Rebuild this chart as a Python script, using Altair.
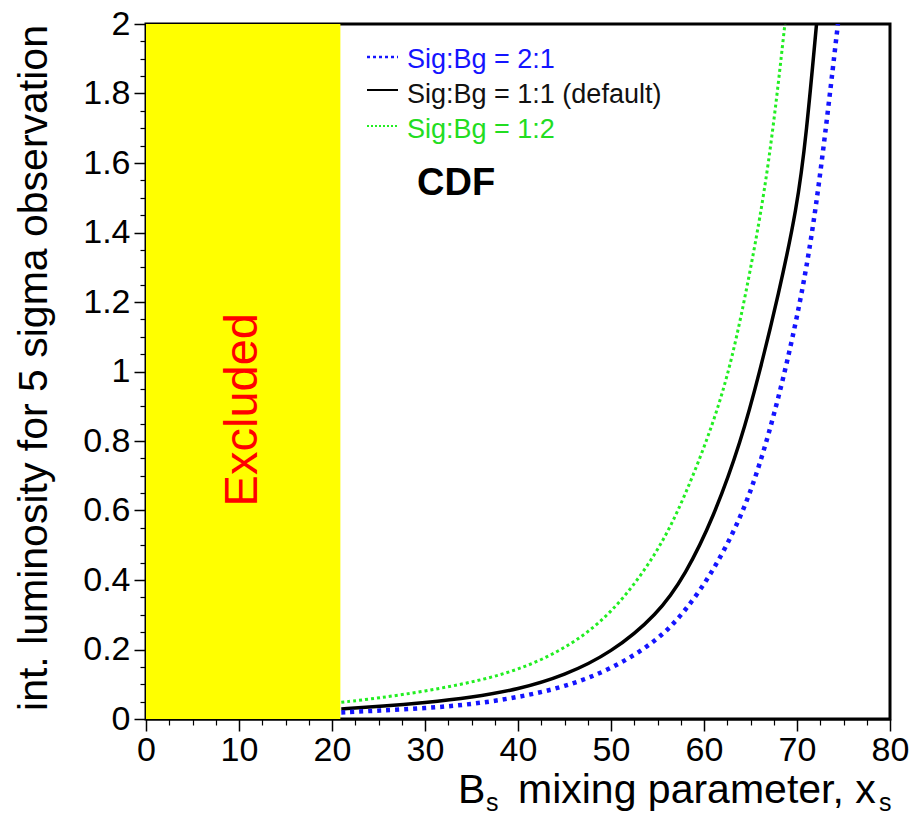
import altair as alt
import pandas as pd

# ---------------- data ----------------
x_major = [0, 10, 20, 30, 40, 50, 60, 70, 80]
y_major = [0, 0.2, 0.4, 0.6, 0.8, 1.0, 1.2, 1.4, 1.6, 1.8, 2.0]
x_minor = [2.5, 5, 7.5, 12.5, 15, 17.5, 22.5, 25, 27.5, 32.5, 35, 37.5, 42.5, 45, 47.5,
           52.5, 55, 57.5, 62.5, 65, 67.5, 72.5, 75, 77.5]
y_minor = [0.05, 0.1, 0.15, 0.25, 0.3, 0.35, 0.45, 0.5, 0.55, 0.65, 0.7, 0.75, 0.85, 0.9, 0.95,
           1.05, 1.1, 1.15, 1.25, 1.3, 1.35, 1.45, 1.5, 1.55, 1.65, 1.7, 1.75, 1.85, 1.9, 1.95]

excluded_from = [0]
excluded_to = [20.9]

series_names = ["Sig:Bg = 2:1", "Sig:Bg = 1:1 (default)", "Sig:Bg = 1:2"]

sig21_x = [21, 25, 30, 35, 40, 45, 50, 55, 58, 61, 64, 66, 68, 70, 72, 74.4]
sig21_y = [0.019, 0.024, 0.031, 0.042, 0.062, 0.092, 0.142, 0.225, 0.31, 0.425, 0.58, 0.73,
           0.92, 1.15, 1.44, 2.0]

sig11_x = [21, 25, 30, 35, 40, 45, 50, 55, 58, 61, 64, 66, 68, 70, 71, 72.1]
sig11_y = [0.029, 0.036, 0.047, 0.062, 0.085, 0.125, 0.19, 0.30, 0.415, 0.578, 0.80, 1.0,
           1.22, 1.47, 1.68, 2.0]

sig12_x = [21, 25, 30, 35, 40, 45, 50, 55, 58, 61, 63, 65, 67, 68.7]
sig12_y = [0.048, 0.06, 0.08, 0.105, 0.14, 0.2, 0.298, 0.475, 0.643, 0.849, 1.03, 1.29,
           1.59, 2.0]

FONT = "Liberation Sans"
W, H = 744, 695

xs = alt.Scale(domain=[0, 80], nice=False, zero=False)
ys = alt.Scale(domain=[0, 2], nice=False, zero=False)

rect_df = pd.DataFrame({"x0": excluded_from, "x1": excluded_to, "y0": [0], "y1": [2]})

major_axis_x = alt.Axis(values=x_major, format="d", title=None, tickSize=12, tickWidth=1.5,
                        labelFontSize=34, labelPadding=2, labelFont=FONT, labelColor="black",
                        domainColor="black", domainWidth=2, tickColor="black", grid=False,
                        orient="bottom", labelFlush=False, labelOverlap=False)
major_axis_y = alt.Axis(values=y_major, format="~g", tickSize=12, tickWidth=1.5,
                        labelFontSize=34, labelPadding=4, labelFont=FONT, labelColor="black",
                        domainColor="black", domainWidth=2, tickColor="black", grid=False,
                        orient="left", labelFlush=False, labelOverlap=False,
                        title="int. luminosity for 5 sigma observation", titleFont=FONT,
                        titleFontSize=41, titleFontWeight="normal", titleColor="black",
                        titleAngle=270, titleX=-100, titleY=H / 2 - 4, titleAlign="center",
                        titleBaseline="alphabetic")

excluded = alt.Chart(rect_df).mark_rect(color="#ffff00").encode(
    x=alt.X("x0:Q", scale=xs, axis=major_axis_x),
    x2="x1:Q",
    y=alt.Y("y0:Q", scale=ys, axis=major_axis_y),
    y2="y1:Q",
)

minor_axis_x = alt.Axis(values=x_minor, labels=False, title=None, tickSize=6, tickWidth=1.2,
                        tickColor="black", domain=False, grid=False, orient="bottom")
minor_axis_y = alt.Axis(values=y_minor, labels=False, title=None, tickSize=6, tickWidth=1.2,
                        tickColor="black", domain=False, grid=False, orient="left")

minor = alt.Chart(rect_df).mark_rect(opacity=0).encode(
    x=alt.X("x0:Q", scale=xs, axis=minor_axis_x),
    x2="x1:Q",
    y=alt.Y("y0:Q", scale=ys, axis=minor_axis_y),
    y2="y1:Q",
)

excl_text = alt.Chart(pd.DataFrame({"x": [10.45], "y": [0.89], "t": ["Excluded"]})).mark_text(
    angle=270, color="#ff0000", fontSize=47, font=FONT, align="center", baseline="middle"
).encode(
    x=alt.X("x:Q", scale=xs, axis=None),
    y=alt.Y("y:Q", scale=ys, axis=None),
    text="t:N",
)


def curve(xv, yv, name, color, width, dash=None):
    df = pd.DataFrame({"x": xv, "y": yv, "series": name})
    kw = dict(color=color, strokeWidth=width, interpolate="basis", clip=True)
    if dash:
        kw["strokeDash"] = dash
    return alt.Chart(df).mark_line(**kw).encode(
        x=alt.X("x:Q", scale=xs, axis=None),
        y=alt.Y("y:Q", scale=ys, axis=None),
        detail="series:N",
    )


blue = "#1414ff"
green = "#22ee22"
l_green = curve(sig12_x, sig12_y, series_names[2], green, 3, [3, 3])
l_black = curve(sig11_x, sig11_y, series_names[1], "black", 3.5)
l_blue = curve(sig21_x, sig21_y, series_names[0], blue, 4.5, [4, 5])

# ---------------- legend (annotation) ----------------
one = pd.DataFrame({"a": [0]})


def sample(yp, color, width, dash=None):
    kw = dict(color=color, strokeWidth=width)
    if dash:
        kw["strokeDash"] = dash
    return alt.Chart(one).mark_rule(**kw).encode(
        x=alt.value(221), x2=alt.value(252), y=alt.value(yp))


def label(txt, xp, yp, color, size, weight="normal"):
    return alt.Chart(one).mark_text(
        text=txt, color=color, fontSize=size, font=FONT, fontWeight=weight,
        align="left", baseline="alphabetic"
    ).encode(x=alt.value(xp), y=alt.value(yp))


legend = [
    sample(33, blue, 2.5, [3, 3]),
    sample(66, "black", 2),
    sample(102, green, 2, [2, 2]),
    label(series_names[0], 261, 44, blue, 27),
    label(series_names[1], 261, 79, "#111111", 27),
    label(series_names[2], 261, 114, "#22dd22", 27),
    label("CDF", 271, 171, "black", 38, "bold"),
]

# x-axis title with subscripts
xtitle = [
    label("B", 312, 779, "black", 41),
    label("s", 340, 787, "black", 25),
    label("mixing parameter, x", 372, 779, "black", 41),
    label("s", 733, 787, "black", 25),
]

chart = alt.layer(
    excluded, minor, l_green, l_black, l_blue, excl_text, *legend, *xtitle
).resolve_axis(x="independent", y="independent").properties(
    width=W, height=H,
    autosize=alt.AutoSizeParams(type="none"),
    padding={"left": 138, "top": 16, "right": 19, "bottom": 98},
).configure(font=FONT).configure_view(stroke="black", strokeWidth=3)

chart.save("out.html", embed_options={"renderer": "svg", "actions": False})
